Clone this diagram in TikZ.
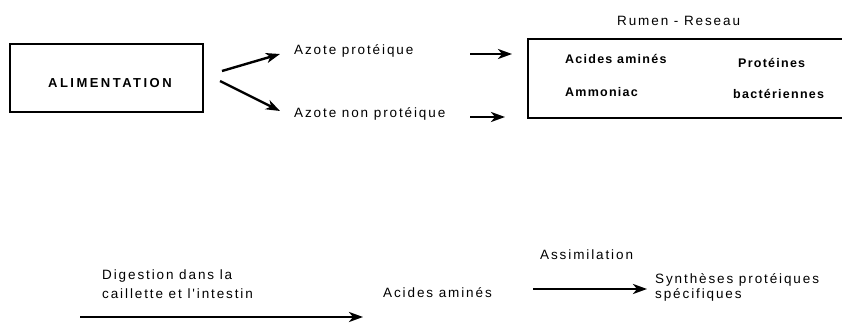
\documentclass[tikz,border=0pt]{standalone}
\usepackage{fontspec}
\setmainfont{Liberation Sans}
\newfontfamily\labfont{Liberation Sans}[LetterSpace=14]
\newfontfamily\boxfont{Liberation Sans Bold}[LetterSpace=10]
\newfontfamily\titlefont{Liberation Sans Bold}[LetterSpace=19]
\usetikzlibrary{arrows.meta}
\begin{document}
\begin{tikzpicture}[x=1pt,y=-1pt,
  txt/.style={anchor=base west,inner sep=0pt,font=\labfont\fontsize{13.5}{16}\selectfont},
  btxt/.style={anchor=base west,inner sep=0pt,font=\boxfont\fontsize{12.5}{15}\selectfont},
  ttxt/.style={anchor=base west,inner sep=0pt,font=\titlefont\fontsize{13}{15}\selectfont},
  frame/.style={line width=2.6pt},
  flow/.style={line width=2.4pt,-{Stealth[length=14pt,width=10pt,inset=4pt]}}]
\useasboundingbox (0,0) rectangle (842,323);

% source box
\draw[frame] (10,44) rectangle (203,112);
\node[ttxt] (alim) at (48,88) {ALIMENTATION};

% the two nitrogen fractions
\node[txt] (azp) at (294,55) {Azote protéique};
\node[txt] (aznp) at (294,118) {Azote non protéique};

% rumen compartment, open on the right
\node[txt] (rumen) at (617,26) {Rumen - Reseau};
\draw[frame] (842,39) -- (528,39) -- (528,118) -- (842,118);
\node[btxt] (aa) at (565,64) {Acides aminés};
\node[btxt] (amm) at (565,97) {Ammoniac};
\node[btxt] (prot) at (738,68) {Protéines};
\node[btxt] (bact) at (733,99) {bactériennes};

% arrow end points
\coordinate (a1s) at (222,71);  \coordinate (a1e) at (280,54);
\coordinate (a2s) at (220,81);  \coordinate (a2e) at (280,111);
\coordinate (a3s) at (470,54);  \coordinate (a3e) at (512,54);
\coordinate (a4s) at (470,117); \coordinate (a4e) at (505,117);
\draw[flow] (a1s) -- (a1e);
\draw[flow] (a2s) -- (a2e);
\draw[flow] (a3s) -- (a3e);
\draw[flow] (a4s) -- (a4e);

% lower chain: digestion and assimilation
\node[txt] (dig1) at (102,279) {Digestion dans la};
\node[txt] (dig2) at (102,298) {caillette et l'intestin};
\coordinate (d1) at (80,317); \coordinate (d2) at (363,317);
\draw[flow] (d1) -- (d2);

\node[txt] (aab) at (383,297) {Acides aminés};
\node[txt] (assim) at (540,259) {Assimilation};
\coordinate (s1) at (533,289); \coordinate (s2) at (647,289);
\draw[flow] (s1) -- (s2);

\node[txt] (syn1) at (655,283) {Synthèses protéiques};
\node[txt] (syn2) at (655,298) {spécifiques};
\end{tikzpicture}
\end{document}
